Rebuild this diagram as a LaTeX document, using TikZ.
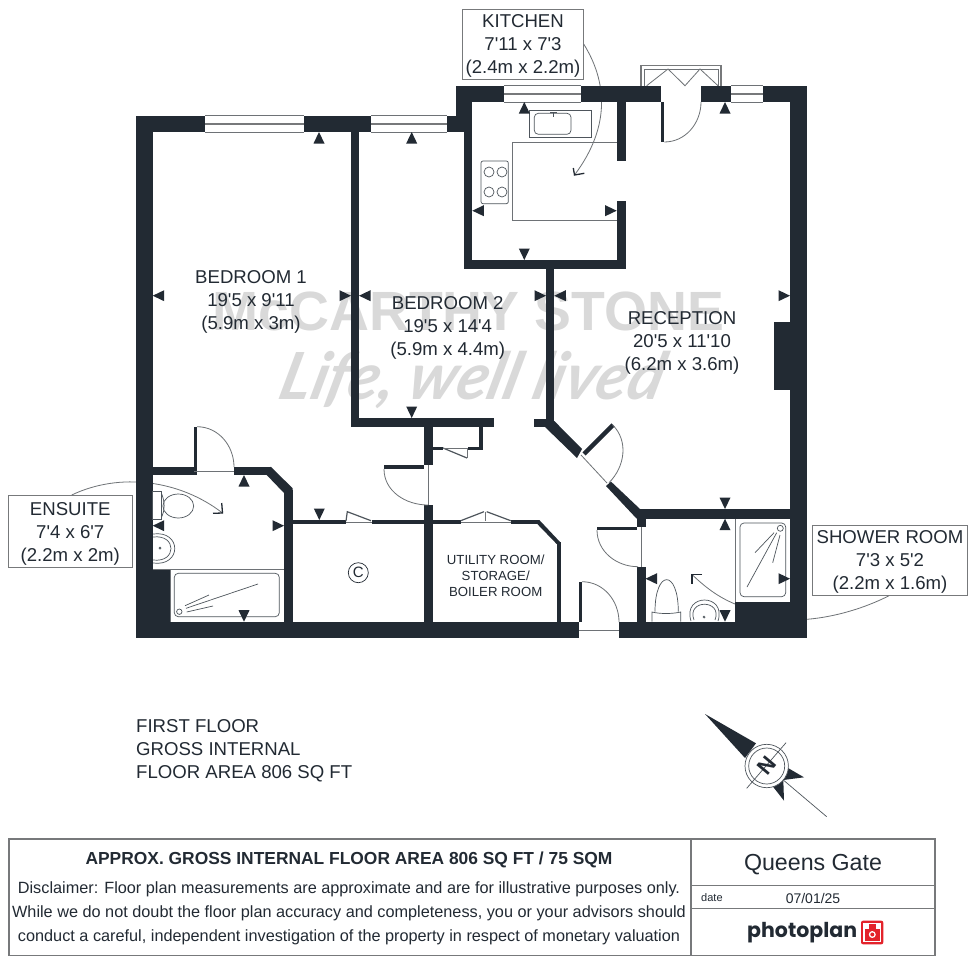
\documentclass[tikz,border=0pt]{standalone}
\usepackage{fontspec}
\newfontfamily\planfont{Liberation Sans}
\newfontfamily\logofont{Poppins}
\newfontfamily\handfont{Lato}
\usepackage{xcolor}
\definecolor{WALLcolor}{HTML}{222a33}
\definecolor{THINcolor}{HTML}{6e7276}
\definecolor{BOXcolor}{HTML}{77797b}
\definecolor{MARKcolor}{HTML}{d9d9d9}
\definecolor{LOGOcolor}{HTML}{e3232b}
\usepackage{tikz}
\usetikzlibrary{%
    calc,
    math
}
\newcommand{\liftline}[1]{\rule{0pt}{#1pt}}
\tikzset{
    roomtext/.style={font=\planfont\fontsize{18.6}{23}\selectfont, align=center, text=WALLcolor, inner sep=0pt},
    labelbox/.style={roomtext, draw=BOXcolor, line width=1pt, fill=white},
    thin line/.style={draw=THINcolor, line width=0.8pt},
    fixture/.style={draw=WALLcolor!80, line width=0.7pt},
    leader/.style={draw=THINcolor, line width=0.8pt},
    chevron/.style={draw=WALLcolor, line width=1.3pt},
    panel/.style={draw=BOXcolor, line width=1.3pt},
    glass/.style={draw=BOXcolor, line width=1.4pt}
}

\begin{document}
\begin{tikzpicture}[x=1pt, y=-1pt]
    \tikzmath{%
        \topA=115.7;
        \topB=132;
        \topK=85.7;
        \topL=102;
        \ybottom=638.3;
        \yfloor=621.7;
    };
    \useasboundingbox [fill=white] (0, 0) rectangle (976, 961);

    % watermark
    \node (stone) [inner sep=0pt, text=MARKcolor] at (468.5, 311) {\planfont\bfseries\fontsize{55.3}{55.3}\selectfont McCARTHY STONE};
    \node (lived) [inner sep=0pt, text=MARKcolor, xslant=0.25] at (473, 380) {\handfont\bfseries\itshape\fontsize{65}{65}\selectfont Life, well lived};

    % labels and their leaders
    \node (kitchen) [labelbox, minimum width=120.6pt, minimum height=70.3pt] at (523, 44.2) {\liftline{15.5}KITCHEN\\7'11 x 7'3\\(2.4m x 2.2m)};
    \node (ensuite) [labelbox, minimum width=124pt, minimum height=72.3pt] at (70.3, 531.2) {\liftline{18.5}ENSUITE\\7'4 x 6'7\\(2.2m x 2m)};
    \node (shower) [labelbox, minimum width=155.4pt, minimum height=70.7pt] at (890, 560.4) {\liftline{15.5}SHOWER ROOM\\7'3 x 5'2\\(2.2m x 1.6m)};
    \coordinate (kitchenEnd) at (574.5, 175);
    \coordinate (ensuiteEnd) at (222.5, 513);
    \coordinate (showerEnd) at (692, 574.5);
    \draw [leader] (kitchen.east) .. controls (606, 80) and (612, 125) .. (kitchenEnd);
    \draw [leader] (71.7, 495) .. controls (120, 472) and (180, 480) .. (ensuiteEnd);
    \draw [leader] (889, 595.7) .. controls (865, 608) and (835, 617) .. (807, 619.3);
    \draw [leader] (735, 604) .. controls (718, 597) and (705, 587) .. (showerEnd);
    \draw [chevron] (573.3, 168) -- (kitchenEnd) -- (584.3, 173.3);
    \draw [chevron] (213, 513.3) -- (ensuiteEnd) -- (221.7, 503);
    \draw [chevron] (702, 574.5) -- (showerEnd) -- (692, 584);

    % walls
    \foreach \xa/\ya/\xb/\yb in {%
            136/\topA/152.7/\ybottom, 136/\yfloor/579/\ybottom, 619/\yfloor/807/\ybottom, 790/\topK/807/\ybottom,
            136/\topA/205/\topB, 304/\topA/371/\topB, 447/\topA/464/\topB,
            456/\topK/472.3/\topL, 456/\topL/464/116,
            456/\topK/504/\topL, 581/\topK/661/\topL, 701/\topK/731/\topL, 763/\topK/807/\topL,
            464/\topL/472.3/268.7, 464/260/625.7/268.7,
            616.7/\topL/625.7/161, 616.7/201/625.7/268.7, 661/\topL/664.3/142,
            351/\topB/359/426.7, 351/418/494/426.7,
            424/426.7/432.7/465, 424/505/432.7/\yfloor, 384/465/424/469,
            546/268/554.3/421, 534/419/546/426.7,
            479/426.7/482.7/450, 468/446.7/482.7/450, 432.7/446.7/443/450,
            292.7/520/346/524, 371.7/520/424/524, 432.7/520/460.7/524, 510.7/520/539/524,
            556.7/542/560.7/\yfloor,
            152.7/466.7/194/475, 234/466.7/270.7/475, 194/426.7/197/475,
            284/490/292.7/\yfloor, 152.7/569/170/\yfloor,
            640/509/790/518.7, 636.7/518/645.5/526.7, 636.7/566.7/645.5/\yfloor, 597/527/637/530,
            735/601.7/790/\yfloor, 774/322/790/390, 579/581.7/582/\yfloor%
        } {%
            \fill [WALLcolor] (\xa, \ya) rectangle (\xb, \yb);
        }
    \fill [WALLcolor] (266.7, 475) -- (270.7, 466.7) -- (292.7, 488.3) -- (292.7, 493) -- (284, 493) -- cycle;
    \fill [WALLcolor] (537.3, 524) -- (539.3, 520) -- (560.7, 542.7) -- (556.7, 544) -- cycle;
    \fill [WALLcolor] (546, 421) -- (554.3, 421) -- (582, 449) -- (577, 458) -- (545, 427) -- cycle;
    \fill [WALLcolor] (606, 486) -- (611, 481.6) -- (640, 509) -- (640, 518.7) -- (636.7, 518.7) -- cycle;
    \draw [WALLcolor, line width=4.5pt] (584, 454) -- (613, 425);

    % windows
    \foreach \xa/\xb/\ya/\yb in {205/304/\topA/\topB, 371/447/\topA/\topB, 504/581/\topK/\topL, 731/763/\topK/\topL} {%
            \draw [thin line] (\xa, \ya) -- (\xb, \ya) (\xa, \yb) -- (\xb, \yb);
            \draw [glass] (\xa, {(\ya+\yb)/2}) -- (\xb, {(\ya+\yb)/2});
        }
    % balcony
    \draw [panel] (641, 85.7) |- (721, 65.7) -- (721, 85.7);
    \draw [thin line] (644, 85.7) |- (718, 69) -- (718, 85.7);
    \draw [thin line] (646.7, 85.7) -- (668, 69) -- (685, 85.7) -- (700, 69) -- (718, 85.7);

    % door swings and thresholds
    \draw [thin line] (664.3, 142) to [out=0, in=270] (701, \topL);
    \draw [thin line] (197, 426.7) to [out=0, in=90] (234, 467);
    \draw [thin line] (612.7, 425) to [out=-45, in=45] (609, 482.7);
    \draw [thin line] (384, 469) to [out=270, in=180] (428, 505);
    \draw [thin line] (597, 530) to [out=270, in=180] (638, 566.7);
    \draw [thin line] (582, 581.7) to [out=0, in=90] (619, 622);
    \draw [thin line] (194, 471) -- (234, 471);
    \draw [thin line] (581, 455) -- (607, 483);
    \draw [thin line] (428, 465) -- (428, 505);
    \draw [thin line] (641.5, 527) -- (641.5, 566.7);
    \draw [thin line] (579, 630) -- (619, 630);

    % bifold doors
    \draw [thin line] (346, 522) -- (371.7, 522);
    \draw [thin line] (460.7, 522) -- (510.7, 522);
    \draw [fixture, line width=1.2pt] (346, 521) -- (347.3, 511.7) -- (371, 520.7);
    \draw [fixture, line width=1.2pt] (460.7, 520.7) -- (484, 511.7);
    \draw [fixture, line width=1.2pt] (486.7, 511.7) -- (510.7, 520.7);
    \draw [thin line] (485.5, 511.7) -- (485.5, 521);
    \draw [fixture, line width=1.2pt] (443, 448) -- (467, 458);
    \draw [thin line] (443, 448.5) -- (468, 448.5) (467, 448.5) -- (467, 458);

    % kitchen
    \draw [thin line] (512.3, 142.3) -- (616.7, 142.3) (512.3, 142.3) -- (512.3, 220.3) -- (616.7, 220.3);
    \draw [fixture] (529.3, 110) rectangle (591.7, 137);
    \draw [fixture, rounded corners=4pt] (534.3, 113.3) rectangle (571, 134.3);
    \draw [fixture, line width=1.4pt] (550, 112.5) -- (557, 112.5) (553.5, 112.5) -- (553.5, 117);
    \draw [fixture, rounded corners=2pt] (481, 161) rectangle (508.3, 203.7);
    \foreach \x/\y in {489/172, 502/172, 489/192, 502/192} {%
            \draw [fixture] (\x, \y) circle (5);
        }

    % ensuite
    \draw [thin line] (152.7, 569) -- (284, 569) (170, 569) -- (170, \yfloor);
    \draw [fixture, rounded corners=4pt] (174.3, 573.3) rectangle (279.3, 616.7);
    \draw [fixture] (179.3, 611.7) circle (2.7);
    \draw [fixture] (185, 605.7) -- (209, 595) (186, 608.3) -- (258, 584) (186.7, 612) -- (213, 606);
    \draw [fixture] (152.7, 491.7) rectangle (161.7, 519.3);
    \draw [fixture] (161.7, 494) .. controls (165, 502) and (165, 510) .. (161.7, 517);
    \draw [fixture] (178.3, 506) ellipse (15.4 and 12);
    \draw [fixture] (153, 534) .. controls (182, 530) and (182, 567) .. (153, 563);
    \draw [fixture] (153, 537) .. controls (177, 534) and (177, 563) .. (153, 560);
    \draw [fixture] (160, 548) circle (1);

    % shower room
    \draw [thin line] (735, 518.7) -- (735, 601.7);
    \draw [fixture, rounded corners=4pt] (740, 523) rectangle (785.7, 596.7);
    \draw [fixture] (780.3, 528.3) circle (3);
    \draw [fixture] (776.7, 532.7) -- (747, 587) (774, 532.7) -- (755, 552.7) (780, 535) -- (772.7, 562.7);
    \draw [fixture] (655, 611.7) .. controls (655, 569) and (678.3, 569) .. (678.3, 611.7);
    \draw [fixture] (652, \yfloor) -- (652, 612) .. controls (660, 614) and (672, 614) .. (680.7, 612) -- (680.7, \yfloor);
    \draw [fixture] (691, 621) .. controls (682, 593) and (727, 593) .. (718, 621);
    \draw [fixture] (694, 620) .. controls (686, 599) and (723, 599) .. (715, 620);
    \draw [fixture] (704, 617) circle (1);

    % measure marks
    \foreach \x/\y/\a in {%
            319/\topB/0, 411.7/\topB/0, 524.3/\topL/0, 725/\topL/0, 244/475/0, 725/518.7/0,
            411.7/418/180, 524.3/260/180, 725/509/180, 725/\yfloor/180, 244/\yfloor/180, 319.3/520/180,
            152.7/295.7/90, 359/295.7/90, 554.3/295.7/90, 472.3/210.7/90, 152.7/525.7/90, 645.5/578.7/90,
            351/295.7/-90, 546/295.7/-90, 790/295.7/-90, 616.7/210.7/-90, 284/525.7/-90, 790/578.7/-90%
        } {%
            \fill [WALLcolor, shift={(\x, \y)}, rotate=\a] (0, 0) -- (-5.5, 11.5) -- (5.5, 11.5) -- cycle;
        }

    % room names
    \node (bedroomA) [roomtext] at (251, 302) {BEDROOM 1\\19'5 x 9'11\\(5.9m x 3m)};
    \node (bedroomB) [roomtext] at (447.7, 328) {BEDROOM 2\\19'5 x 14'4\\(5.9m x 4.4m)};
    \node (reception) [roomtext] at (682, 343) {RECEPTION\\20'5 x 11'10\\(6.2m x 3.6m)};
    \node (utility) [roomtext, font=\planfont\fontsize{13.2}{16}\selectfont] at (495.7, 575.5) {UTILITY ROOM/\\STORAGE/\\BOILER ROOM};
    \node (cupboard) [draw=WALLcolor, circle, line width=0.7pt, minimum size=20pt, inner sep=0pt, text=WALLcolor, font=\planfont\fontsize{15}{15}\selectfont] at (358.3, 572.7) {C};
    \node (area) [roomtext, align=left, anchor=north west] at (136, 719) {FIRST FLOOR\\GROSS INTERNAL\\FLOOR AREA 806 SQ FT};

    % compass
    \fill [WALLcolor] (705, 714) -- (756, 743.3) -- (745, 758) -- cycle;
    \fill [WALLcolor] (788, 768) -- (804, 777.3) -- (783.3, 780) -- (784, 800.7) -- (771.7, 785) -- cycle;
    \draw [fixture, fill=white] (766.7, 766) circle (21.7);
    \draw [fixture] (766.7, 766) circle (18);
    \draw [fixture] (746.7, 788.3) -- (786, 742.7) (783.3, 780) -- (826.7, 816.7);
    \node (north) [inner sep=0pt, rotate=50, text=WALLcolor, font=\planfont\bfseries\fontsize{22}{22}\selectfont] at (766.7, 766) {N};

    % title block
    \draw [panel] (9, 839) rectangle (935, 955.7);
    \draw [panel] (691, 839) -- (691, 955.7) (691, 885.3) -- (935, 885.3) (691, 908.7) -- (935, 908.7);
    \node (title) [inner sep=0pt, text=WALLcolor, font=\planfont\bfseries\fontsize{17.4}{17.4}\selectfont] at (349, 860) {APPROX. GROSS INTERNAL FLOOR AREA 806 SQ FT / 75 SQM};
    \node (disclaimer) [inner sep=0pt, text=WALLcolor, align=center, font=\planfont\fontsize{16.27}{24}\selectfont] at (349, 913) {Disclaimer: Floor plan measurements are approximate and are for illustrative purposes only.\\While we do not doubt the floor plan accuracy and completeness, you or your advisors should\\conduct a careful, independent investigation of the property in respect of monetary valuation};
    \node (queens) [inner sep=0pt, text=WALLcolor, font=\planfont\fontsize{23.2}{23.2}\selectfont] at (813, 865) {Queens Gate};
    \node (date) [inner sep=0pt, anchor=west, text=WALLcolor, font=\planfont\fontsize{11}{11}\selectfont] at (701, 898) {date};
    \node (dated) [inner sep=0pt, text=WALLcolor, font=\planfont\fontsize{14}{14}\selectfont] at (813, 898) {07/01/25};
    \node (photoplan) [inner sep=0pt, anchor=west, text=WALLcolor, font=\logofont\bfseries\fontsize{20.5}{20.5}\selectfont] at (747, 932.5) {photoplan};
    \fill [LOGOcolor, rounded corners=2pt] (861, 920.7) rectangle (883.3, 944.3);
    \fill [white] (863, 923) rectangle (881.3, 942.3);
    \fill [LOGOcolor] (869, 924) rectangle (875.5, 928.5);
    \fill [LOGOcolor] (864.5, 928.5) rectangle (880, 940.5);
    \fill [white] (872.3, 934.5) circle (3.5);
    \fill [LOGOcolor] (872.3, 934.5) circle (2);
\end{tikzpicture}
\end{document}
